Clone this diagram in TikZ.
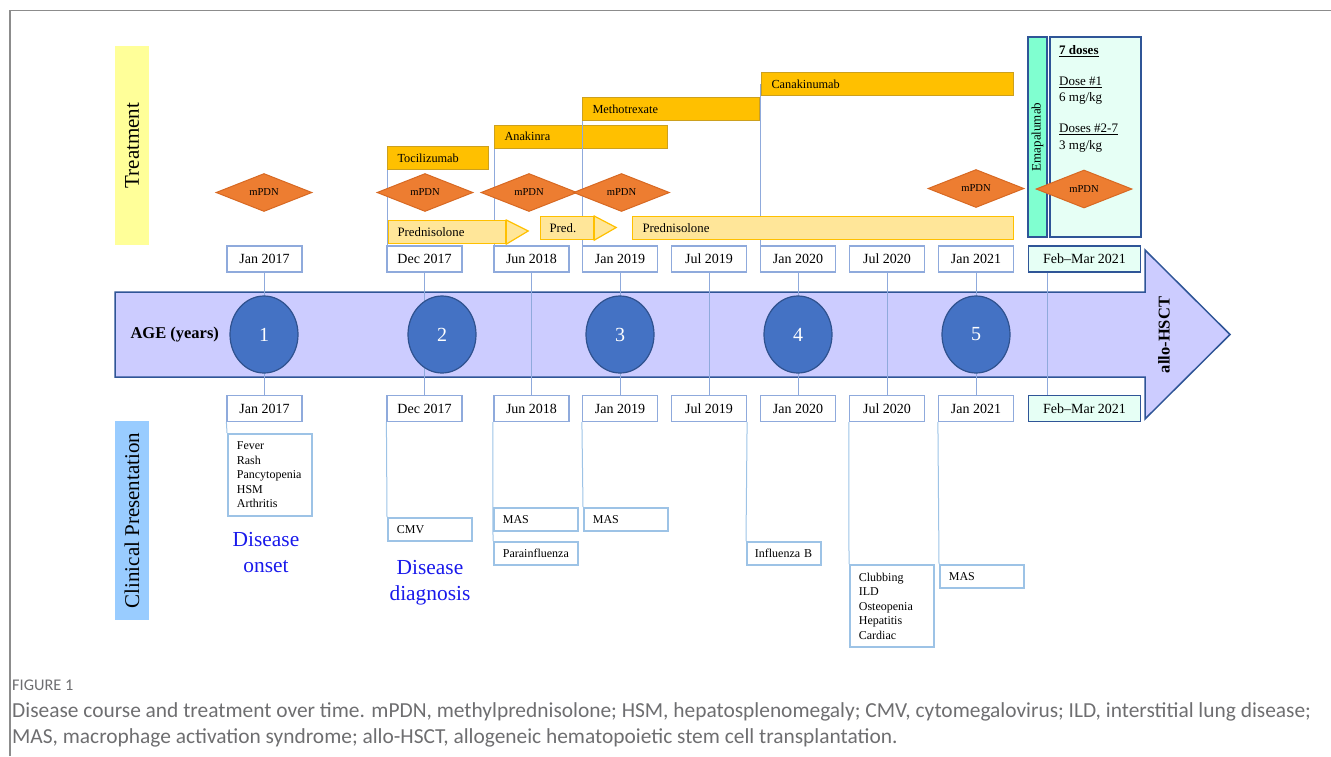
\documentclass[tikz,border=0pt]{standalone}
\usepackage{fontspec}
\setmainfont{Liberation Serif}
\newfontfamily\capfont{Carlito}
\usetikzlibrary{shapes.geometric}
\newcommand{\fsz}[2]{\fontsize{#1}{#2}\selectfont}
\definecolor{dateblue}{RGB}{143,170,220}
\definecolor{clinblue}{RGB}{157,195,230}
\definecolor{darkblue}{RGB}{47,85,151}
\definecolor{mint}{RGB}{230,255,245}
\definecolor{emagreen}{RGB}{128,255,208}
\definecolor{gold}{RGB}{255,192,0}
\definecolor{goldedge}{RGB}{204,160,30}
\definecolor{predfill}{RGB}{255,230,153}
\definecolor{prededge}{RGB}{255,192,0}
\definecolor{orangef}{RGB}{237,125,49}
\definecolor{orangee}{RGB}{215,105,35}
\definecolor{circf}{RGB}{68,114,196}
\definecolor{circe}{RGB}{47,82,143}
\definecolor{lav}{RGB}{204,204,255}
\definecolor{treatyellow}{RGB}{255,255,153}
\definecolor{clinlabel}{RGB}{153,204,255}
\definecolor{onsetblue}{RGB}{25,25,235}
\definecolor{capgray}{RGB}{110,110,112}
\definecolor{framegray}{RGB}{140,140,140}
\begin{document}
\begin{tikzpicture}[x=1pt,y=-1pt,
  datebox/.style={draw=dateblue, line width=1.2pt, fill=white, minimum width=75pt, minimum height=26pt, inner sep=0pt, font=\fsz{14}{16}},
  febox/.style={datebox, draw=darkblue, fill=mint, minimum width=112pt},
  bar/.style={draw=goldedge, fill=gold, line width=1pt, minimum height=23pt, inner ysep=0pt, inner xsep=10pt, align=left, anchor=north west, font=\fsz{12.3}{14}},
  predbox/.style={draw=prededge, fill=predfill, line width=1.2pt, minimum height=23pt, inner ysep=0pt, inner xsep=9pt, align=left, anchor=north west, font=\fsz{12.8}{14}},
  predhead/.style={draw=prededge, fill=predfill, line width=1.2pt, line join=miter},
  mpdn/.style={diamond, draw=orangee, fill=orangef, line width=1pt, aspect=2.5, inner sep=0pt, minimum width=96pt, minimum height=38pt, font=\fsz{10.6}{12}},
  agec/.style={ellipse, draw=circe, fill=circf, line width=1.2pt, minimum width=68pt, minimum height=77pt, inner sep=0pt, text=white, font=\fsz{20}{22}},
  vline/.style={draw=dateblue, line width=1pt},
  cline/.style={draw=clinblue, line width=1pt},
  clin/.style={draw=clinblue, line width=1.8pt, fill=white, inner xsep=9pt, inner ysep=0pt, align=left, anchor=north west, minimum width=84pt, minimum height=23pt, text width=66pt, font=\fsz{12}{14.5}},
  label/.style={rotate=90, minimum height=34pt, minimum width=199pt, inner sep=0pt, font=\fsz{21}{24}},
  milestone/.style={text=onsetblue, align=center, font=\fsz{21.4}{26}},
  captext/.style={anchor=base west, inner sep=0pt, text=capgray}
]
\useasboundingbox (0,0) rectangle (1331,756);
% frame
\draw[framegray, line width=1.2pt] (10,756) -- (10,10.5) -- (1331,10.5);

% side labels
\node[label, fill=treatyellow] (treat) at (132,145.5) {Treatment};
\node[label, fill=clinlabel] (clinlab) at (132,520.5) {Clinical Presentation};

% big arrow band
\draw[fill=lav, draw=darkblue, line width=1.5pt, line join=miter]
  (115,292) -- (1145,292) -- (1145,250) -- (1230,334.5) -- (1145,419) -- (1145,377) -- (115,377) -- cycle;

% treatment bars
\node[bar, text width=81pt] (toci) at (387,146) {Tocilizumab};
\node[bar, text width=153pt] (anak) at (494,124.5) {Anakinra};
\node[bar, text width=157pt] (mtx) at (582,97) {Methotrexate};
\node[bar, text width=232pt] (cana) at (761,72) {Canakinumab};

% top date boxes
\node[datebox] (t1) at (264.5,259) {Jan 2017};
\node[datebox] (t2) at (424.5,259) {Dec 2017};
\node[datebox] (t3) at (531.5,259) {Jun 2018};
\node[datebox] (t4) at (620,259) {Jan 2019};
\node[datebox] (t5) at (709,259) {Jul 2019};
\node[datebox] (t6) at (798,259) {Jan 2020};
\node[datebox] (t7) at (887,259) {Jul 2020};
\node[datebox] (t8) at (976,259) {Jan 2021};
\node[febox] (t9) at (1084.5,259) {Feb–Mar 2021};

% bottom date boxes
\node[datebox] (b1) at (264.5,408.5) {Jan 2017};
\node[datebox] (b2) at (424.5,408.5) {Dec 2017};
\node[datebox] (b3) at (531.5,408.5) {Jun 2018};
\node[datebox] (b4) at (620,408.5) {Jan 2019};
\node[datebox] (b5) at (709,408.5) {Jul 2019};
\node[datebox] (b6) at (798,408.5) {Jan 2020};
\node[datebox] (b7) at (887,408.5) {Jul 2020};
\node[datebox] (b8) at (976,408.5) {Jan 2021};
\node[febox] (b9) at (1084.5,408.5) {Feb–Mar 2021};

% treatment vertical lines
\draw[vline] (toci.south west) -- (toci.south west |- t2.north);
\draw[vline] (anak.south west) -- (anak.south west |- t3.north);
\draw[vline] (mtx.south west) -- (mtx.south west |- t4.north);
\draw[vline] ([xshift=-0.5pt]cana.west) -- ([xshift=-0.5pt]cana.west |- t6.north);

% timeline lines
\draw[vline] (t1.south) -- (b1.north);
\draw[vline] (t2.south) -- (b2.north);
\draw[vline] (t3.south) -- (b3.north);
\draw[vline] (t4.south) -- (b4.north);
\draw[vline] (t5.south) -- (b5.north);
\draw[vline] (t6.south) -- (b6.north);
\draw[vline] (t7.south) -- (b7.north);
\draw[vline] (t8.south) -- (b8.north);
\draw[vline] ([xshift=20pt]t9.south west) -- ([xshift=20pt]b9.north west);

% age circles
\node[agec] (c1) at (264,334.5) {1};
\node[agec] (c2) at (442,334.5) {2};
\node[agec] (c3) at (620,334.5) {3};
\node[agec] (c4) at (798,334.5) {4};
\node[agec] (c5) at (976,334.5) {5};
\node[anchor=west, font=\bfseries\fsz{16.5}{18}] (age) at (127,334.5) {AGE (years)};
\node[rotate=90, font=\bfseries\fsz{16.5}{18}] (hsct) at (1164,335) {allo-HSCT};

% prednisolone arrows
\node[predbox, text width=99pt] (pred1) at (388,220) {Prednisolone};
\draw[predhead] (pred1.north east) -- ++(22,11) -- (pred1.south east) -- cycle;
\node[predbox, text width=35pt] (pred2) at (540,216) {Pred.};
\draw[predhead] (pred2.north east) -- ++(22,11.5) -- (pred2.south east) -- cycle;
\node[predbox, inner xsep=10pt, text width=361pt] (pred3) at (632,216) {Prednisolone};

% emapalumab and doses
\node[rotate=90, draw=darkblue, fill=emagreen, line width=1.3pt, minimum width=200pt, minimum height=19pt, inner sep=0pt, font=\fsz{13}{15}] (ema) at (1037.5,137) {Emapalumab};
\node[draw=darkblue, fill=mint, line width=1.3pt, minimum width=91pt, minimum height=200pt, inner sep=0pt] (dose) at (1095.5,137) {};
\node[anchor=west, inner sep=0pt, font=\bfseries\fsz{13}{15}] (d0) at (1059,51) {\underline{7 doses}};
\node[anchor=west, inner sep=0pt, font=\fsz{13}{15}] (d1) at (1059,82) {\underline{Dose \#1}};
\node[anchor=west, inner sep=0pt, font=\fsz{13}{15}] (d2) at (1059,98) {6 mg/kg};
\node[anchor=west, inner sep=0pt, font=\fsz{13}{15}] (d3) at (1059,129) {\underline{Doses \#2-7}};
\node[anchor=west, inner sep=0pt, font=\fsz{13}{15}] (d4) at (1059,146) {3 mg/kg};

% mPDN diamonds
\node[mpdn] (m1) at (264,192.5) {mPDN};
\node[mpdn] (m2) at (425,192.5) {mPDN};
\node[mpdn] (m3) at (529,192.5) {mPDN};
\node[mpdn] (m4) at (621.5,192.5) {mPDN};
\node[mpdn] (m5) at (976,188.5) {mPDN};
\node[mpdn] (m6) at (1084,189) {mPDN};

% connectors to clinical boxes
\draw[cline] (b1.south west) -- (227,433);
\draw[cline] (b2.south west) -- (387,517);
\draw[cline] ([xshift=-0.5pt]b3.south west) -- (493,541);
\draw[cline] (b4.south west) -- (583,507);
\draw[cline] (b5.south east) -- (746,541);
\draw[cline] (b7.south west) -- (849,564);
\draw[cline] (b8.south west) -- (939,564);

% clinical presentation
\node[clin, minimum height=82pt] (fever) at (227,433) {Fever\\Rash\\Pancytopenia\\HSM\\Arthritis};
\node[clin] (cmv) at (387,517) {CMV};
\node[clin] (mas1) at (493,507) {MAS};
\node[clin] (para) at (493,541) {Parainfluenza};
\node[clin] (mas2) at (583,507) {MAS};
\node[clin, minimum width=74pt, inner xsep=8pt, text width=58pt] (flu) at (746,541) {Influenza B};
\node[clin, minimum height=82pt] (club) at (849,564) {Clubbing\\ILD\\Osteopenia\\Hepatitis\\Cardiac};
\node[clin] (mas3) at (939,564) {MAS};

\node[milestone] (onset) at (266,553) {Disease\\onset};
\node[milestone] (diag) at (430,583) {Disease\\diagnosis};

% caption
\node[captext, font=\capfont\fsz{16.3}{18}] (fig) at (12,690) {FIGURE 1};
\node[captext, font=\capfont\fsz{21.4}{24}] (cap1) at (12,717) {Disease course and treatment over time. mPDN, methylprednisolone; HSM, hepatosplenomegaly; CMV, cytomegalovirus; ILD, interstitial lung disease;};
\node[captext, font=\capfont\fsz{21.4}{24}] (cap2) at (12,743) {MAS, macrophage activation syndrome; allo-HSCT, allogeneic hematopoietic stem cell transplantation.};
\end{tikzpicture}
\end{document}
